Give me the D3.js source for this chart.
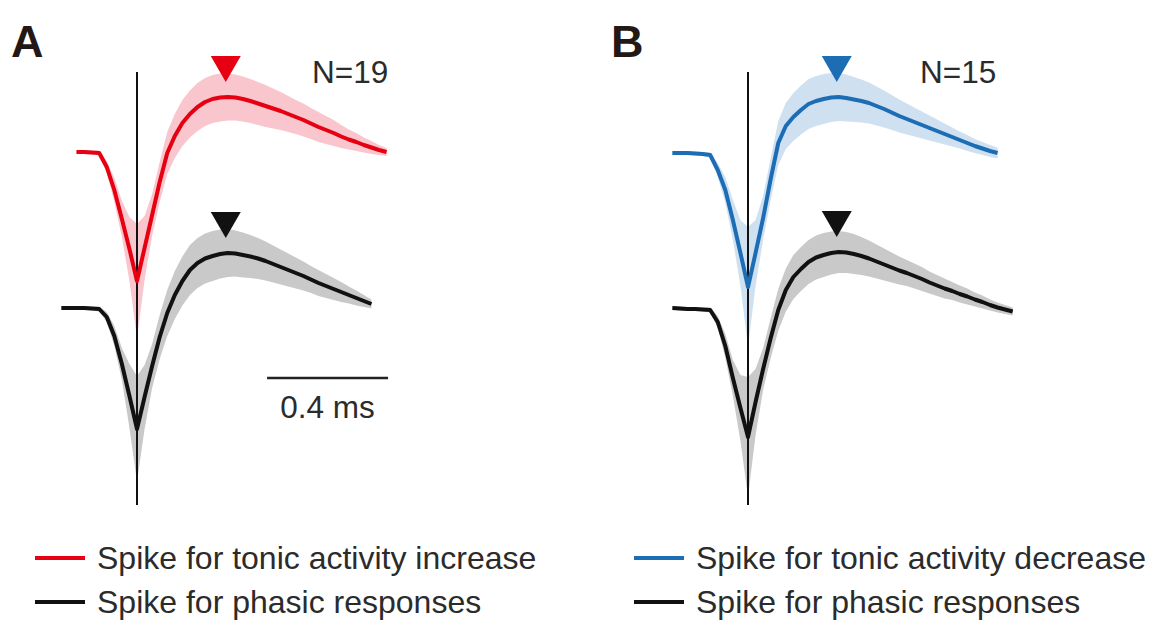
<!DOCTYPE html>
<html>
<head>
<meta charset="utf-8">
<script src="https://cdn.jsdelivr.net/npm/d3@7"></script>
<style>
  html, body { margin: 0; padding: 0; background: #fff; }
  svg { display: block; font-family: "Liberation Sans", Arial, Helvetica, sans-serif; }
</style>
</head>
<body>
<svg id="chart" width="1153" height="621"></svg>
<script>
// Time grid (ms) relative to the spike trough
const timeMs = [-0.25, -0.225, -0.2, -0.175, -0.15, -0.125, -0.1, -0.075, -0.05, -0.025,
  0, 0.025, 0.05, 0.075, 0.1, 0.125, 0.15, 0.175, 0.2, 0.225,
  0.25, 0.275, 0.3, 0.325, 0.35, 0.375, 0.4, 0.425, 0.45, 0.475,
  0.5, 0.525, 0.55, 0.575, 0.6, 0.625, 0.65, 0.675, 0.7, 0.725,
  0.75, 0.775, 0.8, 0.825, 0.85, 0.875];

// Panel A: tonic activity increase (mean and SD, normalized amplitude)
const incMean = [null, null, 0, 0, -0.005, -0.01, -0.15, -0.38, -0.67, -0.97,
  -1.29, -0.96, -0.63, -0.30, -0.01, 0.16, 0.29, 0.38, 0.45, 0.50,
  0.53, 0.545, 0.55, 0.545, 0.53, 0.51, 0.485, 0.46, 0.435, 0.41,
  0.38, 0.35, 0.32, 0.285, 0.25, 0.22, 0.19, 0.155, 0.125, 0.10,
  0.07, 0.045, 0.02, 0.0, null, null];
const incSd = [null, null, 0.02, 0.02, 0.02, 0.025, 0.06, 0.12, 0.18, 0.32,
  0.57, 0.32, 0.21, 0.20, 0.21, 0.22, 0.23, 0.235, 0.24, 0.24,
  0.24, 0.24, 0.235, 0.23, 0.225, 0.22, 0.215, 0.21, 0.20, 0.19,
  0.18, 0.17, 0.165, 0.155, 0.15, 0.14, 0.13, 0.115, 0.10, 0.09,
  0.075, 0.065, 0.05, 0.04, null, null];

// Panel A: phasic responses
const phasicAMean = [0, 0, 0, 0, -0.005, -0.01, -0.09, -0.28, -0.56, -0.88,
  -1.21, -0.89, -0.58, -0.29, -0.05, 0.13, 0.27, 0.38, 0.45, 0.495,
  0.52, 0.54, 0.55, 0.545, 0.53, 0.515, 0.495, 0.47, 0.44, 0.41,
  0.38, 0.35, 0.32, 0.285, 0.25, 0.22, 0.19, 0.16, 0.13, 0.10,
  0.07, 0.04, null, null, null, null];
const phasicASd = [0.02, 0.02, 0.02, 0.02, 0.02, 0.025, 0.05, 0.10, 0.16, 0.32,
  0.53, 0.32, 0.22, 0.22, 0.23, 0.24, 0.245, 0.25, 0.25, 0.25,
  0.25, 0.245, 0.24, 0.23, 0.225, 0.215, 0.205, 0.195, 0.185, 0.175,
  0.165, 0.155, 0.145, 0.135, 0.13, 0.12, 0.11, 0.10, 0.085, 0.075,
  0.06, 0.045, null, null, null, null];

// Panel B: tonic activity decrease
const decMean = [0, 0, 0, -0.005, -0.01, -0.02, -0.17, -0.37, -0.67, -1.00,
  -1.34, -1.00, -0.65, -0.26, 0.10, 0.27, 0.36, 0.43, 0.49, 0.52,
  0.54, 0.555, 0.56, 0.55, 0.535, 0.52, 0.50, 0.47, 0.44, 0.405,
  0.37, 0.34, 0.31, 0.28, 0.25, 0.22, 0.19, 0.16, 0.13, 0.10,
  0.07, 0.045, 0.02, 0.0, null, null];
const decSd = [0.02, 0.02, 0.02, 0.02, 0.02, 0.025, 0.07, 0.13, 0.20, 0.33,
  0.60, 0.33, 0.22, 0.21, 0.22, 0.23, 0.24, 0.245, 0.25, 0.25,
  0.25, 0.245, 0.24, 0.235, 0.225, 0.215, 0.205, 0.195, 0.185, 0.175,
  0.165, 0.155, 0.145, 0.135, 0.125, 0.115, 0.105, 0.095, 0.085, 0.08,
  0.07, 0.065, 0.06, 0.055, null, null];

// Panel B: phasic responses
const phasicBMean = [0, -0.005, -0.01, -0.01, -0.015, -0.02, -0.14, -0.38, -0.70, -1.00,
  -1.29, -0.94, -0.61, -0.30, -0.02, 0.18, 0.31, 0.39, 0.46, 0.505,
  0.53, 0.55, 0.56, 0.555, 0.54, 0.52, 0.495, 0.465, 0.435, 0.405,
  0.375, 0.35, 0.32, 0.29, 0.255, 0.225, 0.195, 0.17, 0.14, 0.115,
  0.085, 0.06, 0.03, 0.005, -0.015, -0.035];
const phasicBSd = [0.02, 0.02, 0.02, 0.02, 0.02, 0.025, 0.06, 0.12, 0.18, 0.33,
  0.60, 0.33, 0.21, 0.20, 0.21, 0.215, 0.22, 0.22, 0.22, 0.22,
  0.22, 0.215, 0.21, 0.205, 0.20, 0.19, 0.18, 0.17, 0.16, 0.15,
  0.14, 0.13, 0.125, 0.12, 0.11, 0.105, 0.10, 0.09, 0.085, 0.08,
  0.07, 0.065, 0.055, 0.05, 0.045, 0.04];

const panelLabels = ["A", "B"];
const cellCounts = ["N=19", "N=15"];
const legendLabels = [
  ["Spike for tonic activity increase", "Spike for phasic responses"],
  ["Spike for tonic activity decrease", "Spike for phasic responses"]
];
const scaleBarMs = 0.4;
const scaleBarLabel = "0.4 ms";

// ---- layout & style ----
const RED = "#e60012", RED_BAND = "#f8c6cc";
const BLUE = "#1c6db4", BLUE_BAND = "#cfe1f0";
const BLACK = "#111111", GRAY_BAND = "#c9c9c9";
const TEXT = "#2b2b2b";
const pxPerMs = 302.5;
const pxPerUnit = 100;

const panels = [
  { label: panelLabels[0], origin: 137, labelX: 11, nText: cellCounts[0], nX: 312,
    traces: [
      { mean: incMean, sd: incSd, base: 152, color: RED, band: RED_BAND },
      { mean: phasicAMean, sd: phasicASd, base: 308, color: BLACK, band: GRAY_BAND }
    ],
    legend: { x: 35, labels: legendLabels[0], colors: [RED, BLACK] },
    scaleBar: true },
  { label: panelLabels[1], origin: 748, labelX: 611, nText: cellCounts[1], nX: 920,
    traces: [
      { mean: decMean, sd: decSd, base: 153, color: BLUE, band: BLUE_BAND },
      { mean: phasicBMean, sd: phasicBSd, base: 308, color: BLACK, band: GRAY_BAND }
    ],
    legend: { x: 634, labels: legendLabels[1], colors: [BLUE, BLACK] },
    scaleBar: false }
];

const svg = d3.select("#chart");
svg.append("rect").attr("width", 1153).attr("height", 621).attr("fill", "#fff");

panels.forEach(p => {
  const x = d3.scaleLinear()
    .domain([0, 1])
    .range([p.origin, p.origin + pxPerMs]);
  const g = svg.append("g");

  const traceScales = p.traces.map(tr => d3.scaleLinear()
    .domain([0, 1]).range([tr.base, tr.base - pxPerUnit]));

  // SD bands
  p.traces.forEach((tr, k) => {
    const y = traceScales[k];
    const rows = timeMs.map((t, i) => ({ t, m: tr.mean[i], s: tr.sd[i] }));
    const area = d3.area()
      .defined(d => d.m !== null)
      .x(d => x(d.t))
      .y0(d => y(d.m - d.s))
      .y1(d => y(d.m + d.s))
      .curve(d3.curveLinear);
    g.append("path").datum(rows)
      .attr("d", area)
      .attr("fill", tr.band);
  });

  // trough reference line
  g.append("line")
    .attr("x1", x(0)).attr("x2", x(0))
    .attr("y1", 72).attr("y2", 505)
    .attr("stroke", BLACK).attr("stroke-width", 2);

  // mean waveforms and peak markers
  p.traces.forEach((tr, k) => {
    const y = traceScales[k];
    const rows = timeMs.map((t, i) => ({ t, m: tr.mean[i] }));
    const line = d3.line()
      .defined(d => d.m !== null)
      .x(d => x(d.t))
      .y(d => y(d.m))
      .curve(d3.curveLinear);
    g.append("path").datum(rows)
      .attr("d", line)
      .attr("fill", "none")
      .attr("stroke", tr.color)
      .attr("stroke-width", 4)
      .attr("stroke-linejoin", "round")
      .attr("stroke-linecap", "butt");

    const valid = rows.filter(d => d.m !== null);
    const peak = valid[d3.maxIndex(valid, d => d.m)];
    const px = x(peak.t) - 2, py = y(peak.m) - 15;
    g.append("path")
      .attr("d", `M${px},${py} L${px - 15},${py - 26} L${px + 15},${py - 26} Z`)
      .attr("fill", tr.color);
  });

  // panel letter and cell count
  svg.append("text")
    .attr("x", p.labelX).attr("y", 57)
    .attr("font-size", 45).attr("font-weight", "bold")
    .attr("fill", "#231815")
    .text(p.label);
  svg.append("text")
    .attr("x", p.nX).attr("y", 83)
    .attr("font-size", 31.5)
    .attr("fill", TEXT)
    .text(p.nText);

  if (p.scaleBar) {
    const s0 = 0.43;
    g.append("line")
      .attr("x1", x(s0)).attr("x2", x(s0 + scaleBarMs))
      .attr("y1", 378).attr("y2", 378)
      .attr("stroke", "#222").attr("stroke-width", 2.5);
    g.append("text")
      .attr("x", x(s0 + scaleBarMs / 2)).attr("y", 418)
      .attr("text-anchor", "middle")
      .attr("font-size", 31.5)
      .attr("fill", TEXT)
      .text(scaleBarLabel);
  }

  // legend
  p.legend.labels.forEach((lab, j) => {
    const ly = 558 + j * 44;
    svg.append("line")
      .attr("x1", p.legend.x).attr("x2", p.legend.x + 50)
      .attr("y1", ly).attr("y2", ly)
      .attr("stroke", p.legend.colors[j]).attr("stroke-width", 4);
    svg.append("text")
      .attr("x", p.legend.x + 62).attr("y", ly + 11)
      .attr("font-size", 32)
      .attr("fill", TEXT)
      .text(lab);
  });
});
</script>
</body>
</html>
